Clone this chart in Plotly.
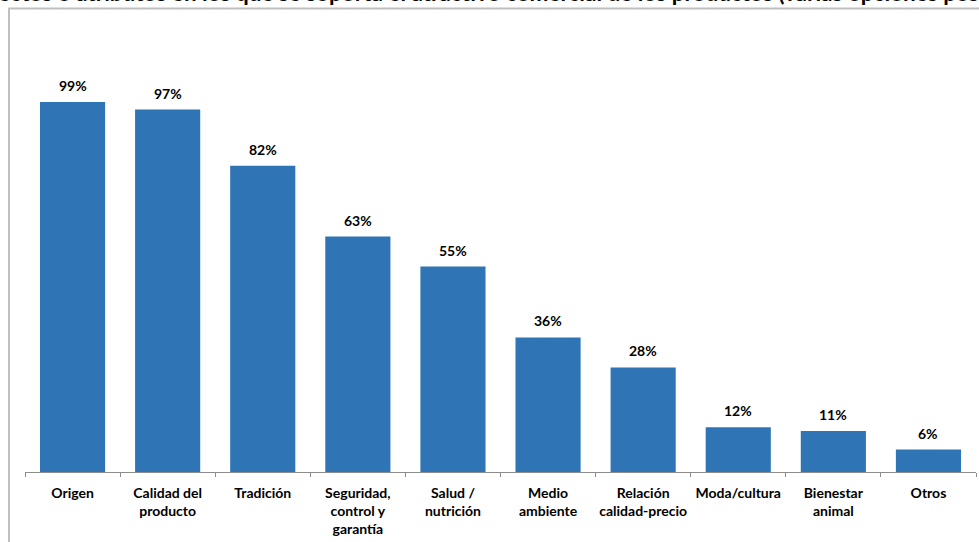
import plotly.graph_objects as go

categories = ["Origen", "Calidad del<br>producto", "Tradición", "Seguridad,<br>control y<br>garantía",
              "Salud /<br>nutrición", "Medio<br>ambiente", "Relación<br>calidad-precio",
              "Moda/cultura", "Bienestar<br>animal", "Otros"]
values = [99, 97, 82, 63, 55, 36, 28, 12, 11, 6]
value_labels = [f"{v}%" for v in values]
title_text = "Aspectos o atributos en los que se soporta el atractivo comercial de los productos (varias opciones posibles)"

FONT = "Lato"
BAR = "#2F75B5"

fig = go.Figure()
fig.add_trace(go.Bar(x=categories, y=values, marker=dict(color=BAR, line=dict(width=0)),
                     width=0.685, hoverinfo="skip"))

for c, v, t in zip(categories, values, value_labels):
    fig.add_annotation(x=c, y=v, text=f"<b>{t}</b>", showarrow=False, yanchor="bottom",
                       yshift=6, font=dict(family=FONT, size=14, color="#000000"))

fig.add_annotation(xref="paper", yref="paper", x=0.4937, y=1.084, xanchor="center", yanchor="middle",
                   text=f"<b>{title_text}</b>", showarrow=False,
                   font=dict(family=FONT, size=22.5, color="#000000"))

# outer frame
fig.add_shape(type="rect", xref="paper", yref="paper", x0=-0.0168, x1=1.03, y0=-0.25, y1=1.0487,
              line=dict(color="#BFBFBF", width=2), fillcolor="rgba(0,0,0,0)", layer="below")

fig.update_layout(
    width=979, height=542,
    margin=dict(l=25, r=3, t=30, b=70, autoexpand=False),
    paper_bgcolor="white", plot_bgcolor="white",
    showlegend=False,
    bargap=0.3,
    font=dict(family=FONT, size=14, color="#000000"),
)
fig.update_xaxes(showline=True, linecolor="#8C8C8C", linewidth=1, ticks="outside",
                 tickson="boundaries", ticklen=4, tickcolor="#8C8C8C", tickangle=0,
                 automargin=False, ticklabelstandoff=8,
                 tickfont=dict(family=FONT, size=14, color="#000000"),
                 tickvals=categories, ticktext=[f"<b>{c}</b>" for c in categories],
                 showgrid=False, fixedrange=True)
fig.update_yaxes(visible=False, range=[0, 118.3], showgrid=False, fixedrange=True, automargin=False)

fig.write_html("out.html", config={"displayModeBar": False},
               post_script="document.body.style.margin='0';")
